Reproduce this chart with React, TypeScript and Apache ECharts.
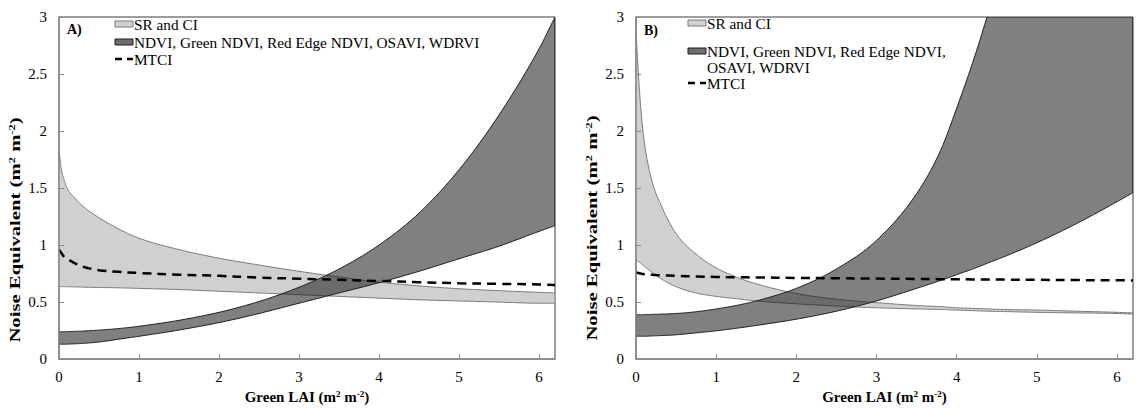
import React, { useEffect, useRef } from "react";
import * as echarts from "echarts";

// ---------- Panel A data ----------
const LAI_A = [0, 0.03, 0.06, 0.1, 0.2, 0.3, 0.5, 0.75, 1, 1.5, 2, 2.5, 3, 3.5, 4, 4.5, 5, 5.5, 6, 6.2];
const SR_UPPER_A = [1.83, 1.66, 1.58, 1.5, 1.41, 1.34, 1.24, 1.14, 1.06, 0.96, 0.885, 0.825, 0.77, 0.72, 0.675, 0.642, 0.617, 0.6, 0.585, 0.58];
const SR_LOWER_A = [0.64, 0.636, 0.635, 0.635, 0.633, 0.631, 0.628, 0.625, 0.62, 0.61, 0.595, 0.58, 0.565, 0.55, 0.535, 0.52, 0.51, 0.5, 0.49, 0.49];
const MTCI_A = [0.96, 0.93, 0.9, 0.88, 0.84, 0.81, 0.78, 0.765, 0.755, 0.74, 0.73, 0.715, 0.705, 0.695, 0.685, 0.675, 0.665, 0.66, 0.655, 0.65];
const NDVI_UPPER_A = [0.24, 0.24, 0.24, 0.241, 0.243, 0.246, 0.254, 0.268, 0.288, 0.34, 0.41, 0.505, 0.63, 0.79, 1.0, 1.28, 1.66, 2.14, 2.72, 3.0];
const NDVI_LOWER_A = [0.13, 0.13, 0.13, 0.131, 0.134, 0.138, 0.15, 0.175, 0.2, 0.255, 0.32, 0.4, 0.49, 0.58, 0.67, 0.77, 0.88, 0.99, 1.12, 1.17];

// ---------- Panel B data ----------
const LAI_B = [0, 0.03, 0.06, 0.1, 0.2, 0.3, 0.5, 0.75, 1, 1.25, 1.5, 2, 2.5, 3, 3.5, 3.8, 4, 4.2, 4.4, 4.6, 5, 5.5, 6, 6.2];
const SR_UPPER_B = [2.88, 2.5, 2.2, 1.92, 1.56, 1.37, 1.1, 0.92, 0.8, 0.72, 0.66, 0.575, 0.525, 0.495, 0.47, 0.46, 0.45, 0.445, 0.44, 0.435, 0.43, 0.42, 0.41, 0.405];
const SR_LOWER_B = [0.87, 0.855, 0.84, 0.815, 0.76, 0.71, 0.635, 0.58, 0.55, 0.53, 0.51, 0.485, 0.465, 0.45, 0.44, 0.435, 0.43, 0.425, 0.42, 0.417, 0.41, 0.405, 0.4, 0.395];
const MTCI_B = [0.76, 0.755, 0.75, 0.745, 0.74, 0.735, 0.73, 0.725, 0.72, 0.718, 0.716, 0.712, 0.709, 0.706, 0.703, 0.701, 0.7, 0.699, 0.698, 0.697, 0.695, 0.693, 0.691, 0.69];
const NDVI_UPPER_B = [0.39, 0.39, 0.39, 0.39, 0.392, 0.394, 0.4, 0.415, 0.44, 0.47, 0.51, 0.62, 0.79, 1.04, 1.45, 1.83, 2.2, 2.6, 3.05, 3.55, 4.7, 6.5, 8.8, 9.8];
const NDVI_LOWER_B = [0.2, 0.2, 0.2, 0.2, 0.203, 0.206, 0.213, 0.23, 0.248, 0.27, 0.295, 0.35, 0.42, 0.51, 0.62, 0.69, 0.74, 0.79, 0.845, 0.9, 1.02, 1.19, 1.38, 1.46];

// ---------- Text ----------
const LEGEND_SR = "SR and CI";
const LEGEND_NDVI = "NDVI, Green NDVI, Red Edge NDVI, OSAVI, WDRVI";
const LEGEND_NDVI_B1 = "NDVI, Green NDVI, Red Edge NDVI,";
const LEGEND_NDVI_B2 = "OSAVI, WDRVI";
const LEGEND_MTCI = "MTCI";
const PANEL_LABELS = ["A)", "B)"];
const X_TITLE = "Green LAI (m{sup|2} m{sup|-2})";
const Y_TITLE = "Noise Equivalent (m{sup|2} m{sup|-2})";

const FONT = "'Liberation Serif', 'Times New Roman', serif";
const SR_FILL = "#d0d0d0";
const SR_LINE = "#7a7a7a";
const NDVI_FILL = "rgba(24,24,24,0.55)";
const NDVI_LINE = "#1e1e1e";
const AXIS_GREY = "#8a8a8a";

const GRIDS = [
  { left: 59, top: 17, width: 496, height: 344 },
  { left: 636, top: 17, width: 497, height: 344 },
];

// monotone cubic smoothing in pixel space (rendering only)
function smoothPts(p: number[][]): number[][] {
  const n = p.length;
  if (n < 3) return p;
  const d: number[] = [];
  for (let i = 0; i < n - 1; i++) {
    const dx = p[i + 1][0] - p[i][0];
    d.push(dx === 0 ? 0 : (p[i + 1][1] - p[i][1]) / dx);
  }
  const m: number[] = new Array(n);
  m[0] = d[0];
  m[n - 1] = d[n - 2];
  for (let i = 1; i < n - 1; i++) m[i] = d[i - 1] * d[i] <= 0 ? 0 : (d[i - 1] + d[i]) / 2;
  for (let i = 0; i < n - 1; i++) {
    if (d[i] === 0) {
      m[i] = 0;
      m[i + 1] = 0;
    } else {
      const a = m[i] / d[i];
      const b = m[i + 1] / d[i];
      const s = a * a + b * b;
      if (s > 9) {
        const t = 3 / Math.sqrt(s);
        m[i] = t * a * d[i];
        m[i + 1] = t * b * d[i];
      }
    }
  }
  const out: number[][] = [];
  for (let i = 0; i < n - 1; i++) {
    const x0 = p[i][0], x1 = p[i + 1][0], y0 = p[i][1], y1 = p[i + 1][1];
    const h = x1 - x0;
    const steps = 12;
    for (let k = 0; k < steps; k++) {
      const t = k / steps;
      const t2 = t * t, t3 = t2 * t;
      const h00 = 2 * t3 - 3 * t2 + 1, h10 = t3 - 2 * t2 + t, h01 = -2 * t3 + 3 * t2, h11 = t3 - t2;
      out.push([x0 + h * t, h00 * y0 + h10 * h * m[i] + h01 * y1 + h11 * h * m[i + 1]]);
    }
  }
  out.push(p[n - 1]);
  return out;
}

function bandSeries(g: number, xs: number[], lower: number[], upper: number[], line: string, fill: string) {
  return {
    type: "custom",
    xAxisIndex: g,
    yAxisIndex: g,
    silent: true,
    clip: true,
    data: xs.map((x, i) => [x, lower[i], upper[i]]),
    renderItem: (params: any, api: any) => {
      if (params.dataIndex !== 0) return null;
      const up = smoothPts(xs.map((x, i) => api.coord([x, upper[i]])));
      const lo = smoothPts(xs.map((x, i) => api.coord([x, lower[i]])));
      const cs = params.coordSys;
      const last = xs.length - 1;
      const upEnd = api.coord([xs[last], upper[last]]);
      const loEnd = api.coord([xs[last], lower[last]]);
      return {
        type: "group",
        clipPath: { type: "rect", shape: { x: cs.x, y: cs.y, width: cs.width, height: cs.height } },
        children: [
          { type: "polygon", shape: { points: up.concat(lo.slice().reverse()) }, style: { fill, stroke: null } },
          { type: "polyline", shape: { points: up }, style: { stroke: line, fill: null, lineWidth: 1 } },
          { type: "polyline", shape: { points: lo }, style: { stroke: line, fill: null, lineWidth: 1 } },
          { type: "line", shape: { x1: upEnd[0], y1: upEnd[1], x2: loEnd[0], y2: loEnd[1] }, style: { stroke: line, lineWidth: 1 } },
        ],
      };
    },
  };
}

function mtciSeries(g: number, xs: number[], ys: number[]) {
  return {
    type: "line",
    xAxisIndex: g,
    yAxisIndex: g,
    symbol: "none",
    smooth: 0.35,
    silent: true,
    z: 5,
    data: xs.map((x, i) => [x, ys[i]]),
    lineStyle: { color: "#000", width: 2.5, type: [9, 6] },
  };
}

const richSup = {
  base: { fontFamily: FONT, fontWeight: "bold", fontSize: 15, color: "#000" },
  sup: { fontFamily: FONT, fontWeight: "bold", fontSize: 9, color: "#000", verticalAlign: "top", padding: [0, 0, 6, 0] },
};

function legend(x: number, rows: { y: number; kind: string; text: string }[]) {
  const els: any[] = [];
  rows.forEach((r) => {
    if (r.kind === "sr" || r.kind === "ndvi") {
      els.push({
        type: "rect",
        z: 100,
        shape: { x: x, y: r.y - 3, width: 18, height: 6 },
        style: r.kind === "sr" ? { fill: SR_FILL, stroke: SR_LINE, lineWidth: 1 } : { fill: "#6e6e6e", stroke: NDVI_LINE, lineWidth: 1 },
      });
    } else if (r.kind === "mtci") {
      els.push({
        type: "line",
        z: 100,
        shape: { x1: x, y1: r.y, x2: x + 18, y2: r.y },
        style: { stroke: "#000", lineWidth: 2.5, lineDash: [7, 5] },
      });
    }
    els.push({
      type: "text",
      z: 100,
      x: x + 19,
      y: r.y,
      style: { text: r.text, fontFamily: FONT, fontSize: 15.3, fill: "#000", align: "left", verticalAlign: "middle" },
    });
  });
  return els;
}

function yTitle(x: number, y: number) {
  return {
    type: "text",
    z: 100,
    x,
    y,
    rotation: Math.PI / 2,
    scaleX: 1.38,
    style: {
      text: "{base|" + Y_TITLE.replace(/\{sup\|([^}]*)\}/g, "}{sup|$1}{base|") + "}",
      rich: richSup,
      align: "center",
      verticalAlign: "middle",
      fontFamily: FONT,
      fontWeight: "bold",
      fontSize: 15,
    },
  };
}

export default function App() {
  const ref = useRef<HTMLDivElement>(null);
  useEffect(() => {
    if (!ref.current) return;
    const chart = echarts.init(ref.current, null, { renderer: "svg" });
    const xAxes = GRIDS.map((_, g) => ({
      type: "value",
      gridIndex: g,
      min: 0,
      max: 6.2,
      interval: 1,
      name: X_TITLE,
      nameLocation: "middle",
      nameGap: 29,
      nameTextStyle: { fontFamily: FONT, fontWeight: "bold", fontSize: 15, color: "#000", rich: richSup },
      axisLine: { show: true, lineStyle: { color: AXIS_GREY, width: 1.5 } },
      axisTick: { show: true, inside: true, length: 5, lineStyle: { color: AXIS_GREY } },
      axisLabel: { fontFamily: FONT, fontSize: 15, color: "#000", margin: 10, showMaxLabel: false },
      splitLine: { show: false },
      z: 10,
    }));
    const yAxes = GRIDS.map((_, g) => ({
      type: "value",
      gridIndex: g,
      min: 0,
      max: 3,
      interval: 0.5,
      axisLine: { show: true, lineStyle: { color: AXIS_GREY, width: 1.5 } },
      axisTick: { show: true, inside: true, length: 5, lineStyle: { color: AXIS_GREY } },
      axisLabel: { fontFamily: FONT, fontSize: 15, color: "#000", margin: 12 },
      splitLine: { show: false },
      z: 10,
    }));
    const series: any[] = [
      bandSeries(0, LAI_A, SR_LOWER_A, SR_UPPER_A, SR_LINE, SR_FILL),
      bandSeries(0, LAI_A, NDVI_LOWER_A, NDVI_UPPER_A, NDVI_LINE, NDVI_FILL),
      mtciSeries(0, LAI_A, MTCI_A),
      bandSeries(1, LAI_B, SR_LOWER_B, SR_UPPER_B, SR_LINE, SR_FILL),
      bandSeries(1, LAI_B, NDVI_LOWER_B, NDVI_UPPER_B, NDVI_LINE, NDVI_FILL),
      mtciSeries(1, LAI_B, MTCI_B),
    ];
    const graphic: any[] = [
      ...legend(115, [
        { y: 24, kind: "sr", text: LEGEND_SR },
        { y: 42, kind: "ndvi", text: LEGEND_NDVI },
        { y: 59, kind: "mtci", text: LEGEND_MTCI },
      ]),
      ...legend(688, [
        { y: 23, kind: "sr", text: LEGEND_SR },
        { y: 51, kind: "ndvi", text: LEGEND_NDVI_B1 },
        { y: 67, kind: "none", text: LEGEND_NDVI_B2 },
        { y: 83, kind: "mtci", text: LEGEND_MTCI },
      ]),
      { type: "text", z: 100, x: 67, y: 29, style: { text: PANEL_LABELS[0], fontFamily: FONT, fontWeight: "bold", fontSize: 14, fill: "#000", verticalAlign: "middle" } },
      { type: "text", z: 100, x: 644, y: 30, style: { text: PANEL_LABELS[1], fontFamily: FONT, fontWeight: "bold", fontSize: 14, fill: "#000", verticalAlign: "middle" } },
      yTitle(15, 230),
      yTitle(592, 228),
    ];
    chart.setOption({
      animation: false,
      backgroundColor: "#fff",
      grid: GRIDS.map((g) => ({ ...g, show: true, borderColor: "#3c3c3c", borderWidth: 1, backgroundColor: "transparent" })),
      xAxis: xAxes,
      yAxis: yAxes,
      series,
      graphic,
    });
    return () => chart.dispose();
  }, []);
  return <div ref={ref} style={{ position: "absolute", left: 0, top: 0, width: 1139, height: 409 }} />;
}
